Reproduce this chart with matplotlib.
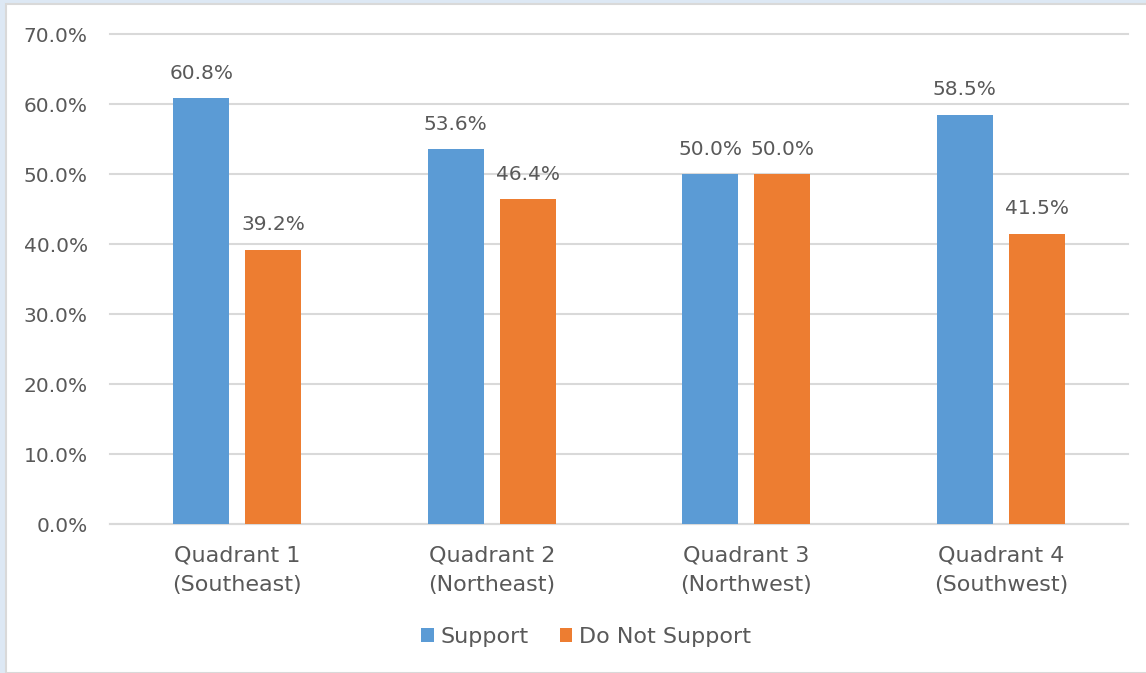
import matplotlib
matplotlib.use("Agg")
import matplotlib.pyplot as plt
import numpy as np
from matplotlib.patches import Rectangle

categories = ["Quadrant 1\n(Southeast)", "Quadrant 2\n(Northeast)", "Quadrant 3\n(Northwest)", "Quadrant 4\n(Southwest)"]
support = [60.8, 53.6, 50.0, 58.5]
not_support = [39.2, 46.4, 50.0, 41.5]
yticks = [0, 10, 20, 30, 40, 50, 60, 70]

BLUE = "#5b9bd5"
ORANGE = "#ed7d31"
TXT = "#595959"
plt.rcParams['font.family'] = ['DejaVu Sans']

fig = plt.figure(figsize=(11.46, 6.73), dpi=100)
fig.patch.set_facecolor("#dde8f4")
# white chart area with grey border
fig.patches.append(Rectangle((6/1146, 0), 1 - 6/1146 + 0.01, 1 - 4/673, transform=fig.transFigure,
                             facecolor="white", edgecolor="#d9d9d9", linewidth=1.5, zorder=-10))

ax = fig.add_axes([110/1146, 1 - 524/673, 1018/1146, 490/673])
ax.set_zorder(5)
ax.set_facecolor("none")
x = np.arange(len(categories))
w = 0.22
off = 0.1415
b1 = ax.bar(x - off, support, w, color=BLUE, label="Support", zorder=3)
b2 = ax.bar(x + off, not_support, w, color=ORANGE, label="Do Not Support", zorder=3)
for bars, vals in ((b1, support), (b2, not_support)):
    for r, v in zip(bars, vals):
        ax.annotate(f"{v:.1f}%", (r.get_x() + r.get_width() / 2, v), xytext=(0, 11),
                    textcoords="offset points", ha="center", va="bottom", fontsize=14.5, color=TXT)

ax.set_xlim(-0.5, 3.5)
ax.set_ylim(0, 70)
ax.set_yticks(yticks)
ax.set_yticklabels([f"{t:.1f}%" for t in yticks], fontsize=14.5, color=TXT)
ax.set_xticks(x)
ax.set_xticklabels(categories, fontsize=16, color=TXT, linespacing=1.6)
ax.tick_params(axis="both", length=0)
ax.tick_params(axis="x", pad=15.5)
ax.tick_params(axis="y", pad=16)
ax.grid(axis="y", color="#d9d9d9", linewidth=1.5, zorder=0)
for gl in ax.get_ygridlines():
    gl.set_clip_on(False)
ax.set_axisbelow(True)
for s in ("top", "right", "left"):
    ax.spines[s].set_visible(False)
ax.spines["bottom"].set_color("#d9d9d9")
ax.spines["bottom"].set_linewidth(1.5)

handles, labels = ax.get_legend_handles_labels()
fig.legend(handles, labels, loc="center", bbox_to_anchor=(586/1146, 1 - 637/673), ncol=2,
           frameon=False, fontsize=16, labelcolor=TXT, handlelength=0.55, handleheight=0.55,
           handletextpad=0.3, columnspacing=1.4)

fig.savefig("out.png", dpi=100)
